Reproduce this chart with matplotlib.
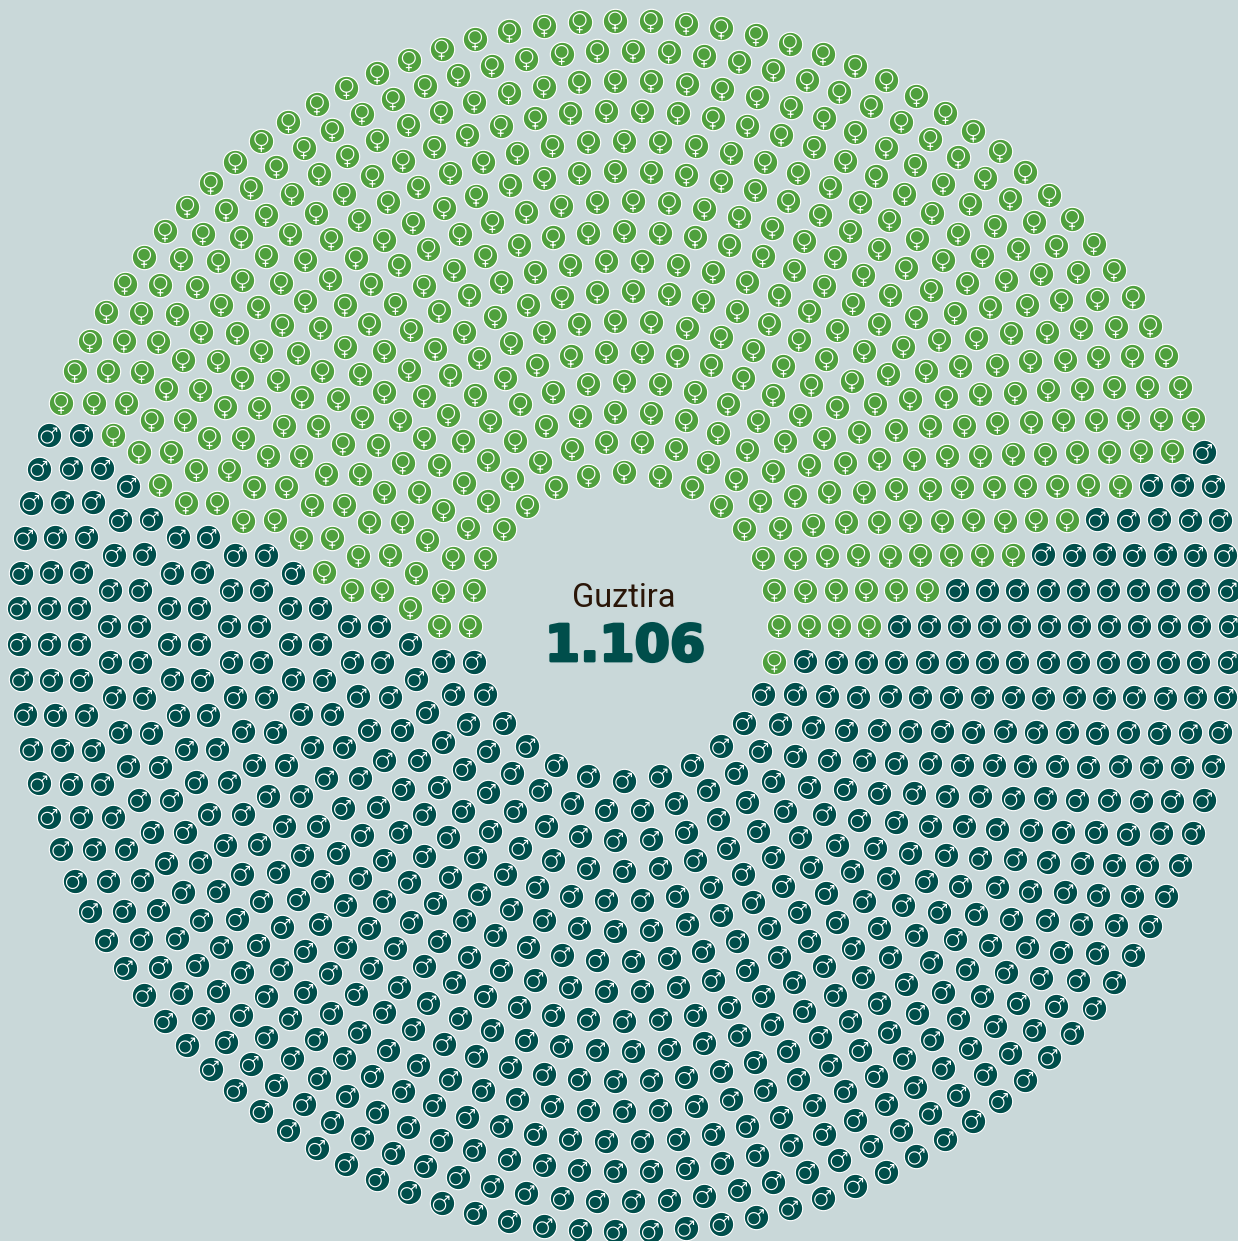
import numpy as np
import matplotlib
matplotlib.use('Agg')
import matplotlib.pyplot as plt
import matplotlib.patheffects as pe
from matplotlib.path import Path

# number of seats per ring, inner to outer
ring_counts = [28, 34, 39, 44, 50, 55, 61, 66, 72, 77, 83, 88, 94, 99, 105, 111]
# first green seat of each ring (counted counter-clockwise from 3 o'clock)
green_first = [-1, 0, 0, 0, 1, 1, 2, 2, 2, 3, 3, 4, 4, 5, 5, 6]
# how many green seats each ring has
green_counts = [16, 18, 20, 22, 24, 26, 27, 29, 32, 33, 36, 37, 39, 40, 42, 44]

title = 'Guztira'
total_label = '1.106'

BG = '#c9d8d9'
GREEN = '#4fa03d'
DARK = '#004e4b'
CX, CY = 624, 626
R0, DR = 154.5, 30.07
DOT_R = 12.2
# seats bunch up a little towards the diagonals in the original
SQUEEZE = np.radians(0.55)


def circle_verts(cx, cy, r, n=40):
    t = np.linspace(0, 2 * np.pi, n)
    return np.column_stack([cx + r * np.cos(t), cy + r * np.sin(t)])


def glyph(parts):
    verts, codes = [], []
    for p in parts:
        p = np.asarray(p, dtype=float)
        verts.extend(p)
        codes.extend([Path.MOVETO] + [Path.LINETO] * (len(p) - 1))
    return Path(np.array(verts), codes)


venus = glyph([circle_verts(0, 2, 6.4),
               [(0, -4.4), (0, -11)],
               [(-3, -7.6), (3, -7.6)]])
mars = glyph([circle_verts(-2, -1.7, 6.1),
              [(2.4, 2.6), (7.2, 7.0)],
              [(3.6, 7.2), (7.4, 7.2), (7.4, 3.4)]])


def marker_size(path):
    # custom markers get scaled by their largest coordinate
    return (2 * np.abs(path.vertices).max() * 0.72) ** 2


fig = plt.figure(figsize=(12.38, 12.41), dpi=100, facecolor=BG)
ax = fig.add_axes([0, 0, 1, 1])
ax.set_xlim(0, 1238)
ax.set_ylim(1241, 0)
ax.axis('off')

gx, gy, dx, dy = [], [], [], []
for i, n in enumerate(ring_counts):
    r = R0 + DR * i
    for k in range(n):
        a = 2 * np.pi * k / n
        a = a + SQUEEZE * np.sin(4 * a)
        x = CX + r * np.cos(a)
        y = CY - r * np.sin(a)
        # seat index wraps, ring 0 starts one seat below 3 o'clock
        kk = k - n if k >= green_first[i] + green_counts[i] else k
        if green_first[i] <= kk < green_first[i] + green_counts[i]:
            gx.append(x)
            gy.append(y)
        else:
            dx.append(x)
            dy.append(y)

s_dot = (2 * DOT_R * 0.72) ** 2
ax.scatter(gx, gy, s=s_dot, c=GREEN, edgecolors='white', linewidths=0.8, zorder=2)
ax.scatter(dx, dy, s=s_dot, c=DARK, edgecolors='white', linewidths=0.8, zorder=2)
ax.scatter(gx, gy, s=marker_size(venus), marker=venus, facecolors='none',
           edgecolors='white', linewidths=0.85, zorder=3)
ax.scatter(dx, dy, s=marker_size(mars), marker=mars, facecolors='none',
           edgecolors='white', linewidths=0.85, joinstyle='round', zorder=3)

ax.text(CX, 598, title, ha='center', va='center', fontsize=23.5,
        family='Roboto', stretch='condensed', color='#2a1608')
num = ax.text(CX + 1, 647, total_label, ha='center', va='center', fontsize=36.5,
              family=['DejaVu Sans Condensed', 'DejaVu Sans'], weight='bold', color=DARK)
num.set_path_effects([pe.withStroke(linewidth=2, foreground=DARK)])

fig.savefig('out.png', dpi=100, facecolor=BG)
